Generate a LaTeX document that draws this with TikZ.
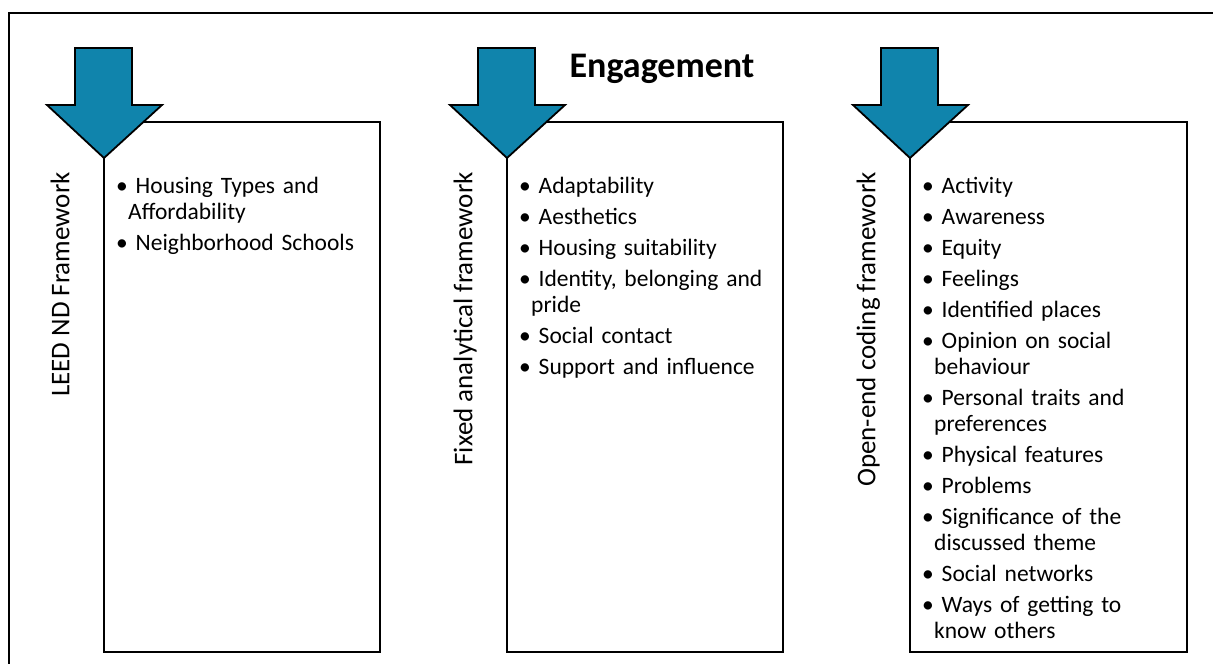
\documentclass[tikz,border=0pt]{standalone}
\usepackage{fontspec}
\setmainfont{Carlito}
\usepackage{xcolor}
\usetikzlibrary{positioning}
\definecolor{arrowblue}{RGB}{16,132,172}

\tikzset{
  framebox/.style={draw=black, line width=2pt},
  downarrow/.style={draw=black, line width=1.8pt, fill=arrowblue, line join=miter},
  sidelabel/.style={rotate=90, anchor=mid east, inner sep=0pt, font=\fontsize{27}{32}\selectfont},
  itemlist/.style={anchor=north west, inner sep=0pt, text width=262pt,
    font=\fontsize{23.5}{26}\selectfont}
}
\newcommand{\itm}[1]{\par\hangindent=12pt\hangafter=1\noindent\textbullet\ #1}

\begin{document}
\begin{tikzpicture}[x=1pt, y=-1pt]
    \useasboundingbox (0,0) rectangle (1213,664);
    \clip (0,0) rectangle (1213,664);
    % outer frame (runs off the page on the right and bottom)
    \draw[line width=2.4pt] (9,13) rectangle (1240,700);

    \node[font=\bfseries\fontsize{36}{40}\selectfont, inner sep=0pt] (title) at (662,69) {Engagement};

    % left: LEED ND
    \begin{scope}[xshift=0pt]
        \draw[framebox] (104,122) rectangle (380,652);
        \draw[downarrow] (75,48) -- (132,48) -- (132,105) -- (162,105) -- (104,158)
            -- (47,105) -- (75,105) -- cycle;
        \node[sidelabel] (leed) at (67,172) {LEED ND Framework};
        \node[itemlist] (leedlist) at (116,162) {\setlength{\parskip}{5pt}%
            \itm{Housing Types and\newline Affordability}
            \itm{Neighborhood Schools}\par};
    \end{scope}

    % middle: fixed analytical framework
    \begin{scope}[xshift=403pt]
        \draw[framebox] (104,122) rectangle (380,652);
        \draw[downarrow] (75,48) -- (132,48) -- (132,105) -- (162,105) -- (104,158)
            -- (47,105) -- (75,105) -- cycle;
        \node[sidelabel] (fixed) at (67,172) {Fixed analytical framework};
        \node[itemlist] (fixedlist) at (116,162) {\setlength{\parskip}{5pt}%
            \itm{Adaptability}
            \itm{Aesthetics}
            \itm{Housing suitability}
            \itm{Identity, belonging and\newline pride}
            \itm{Social contact}
            \itm{Support and influence}\par};
    \end{scope}

    % right: open-end coding framework
    \begin{scope}[xshift=806pt]
        \draw[framebox] (104,122) rectangle (381,652);
        \draw[downarrow] (75,48) -- (132,48) -- (132,105) -- (162,105) -- (104,158)
            -- (47,105) -- (75,105) -- cycle;
        \node[sidelabel] (openend) at (67,172) {Open-end coding framework};
        \node[itemlist] (openlist) at (116,162) {\setlength{\parskip}{5pt}%
            \itm{Activity}
            \itm{Awareness}
            \itm{Equity}
            \itm{Feelings}
            \itm{Identified places}
            \itm{Opinion on social\newline behaviour}
            \itm{Personal traits and\newline preferences}
            \itm{Physical features}
            \itm{Problems}
            \itm{Significance of the\newline discussed theme}
            \itm{Social networks}
            \itm{Ways of getting to\newline know others}\par};
    \end{scope}
\end{tikzpicture}
\end{document}
